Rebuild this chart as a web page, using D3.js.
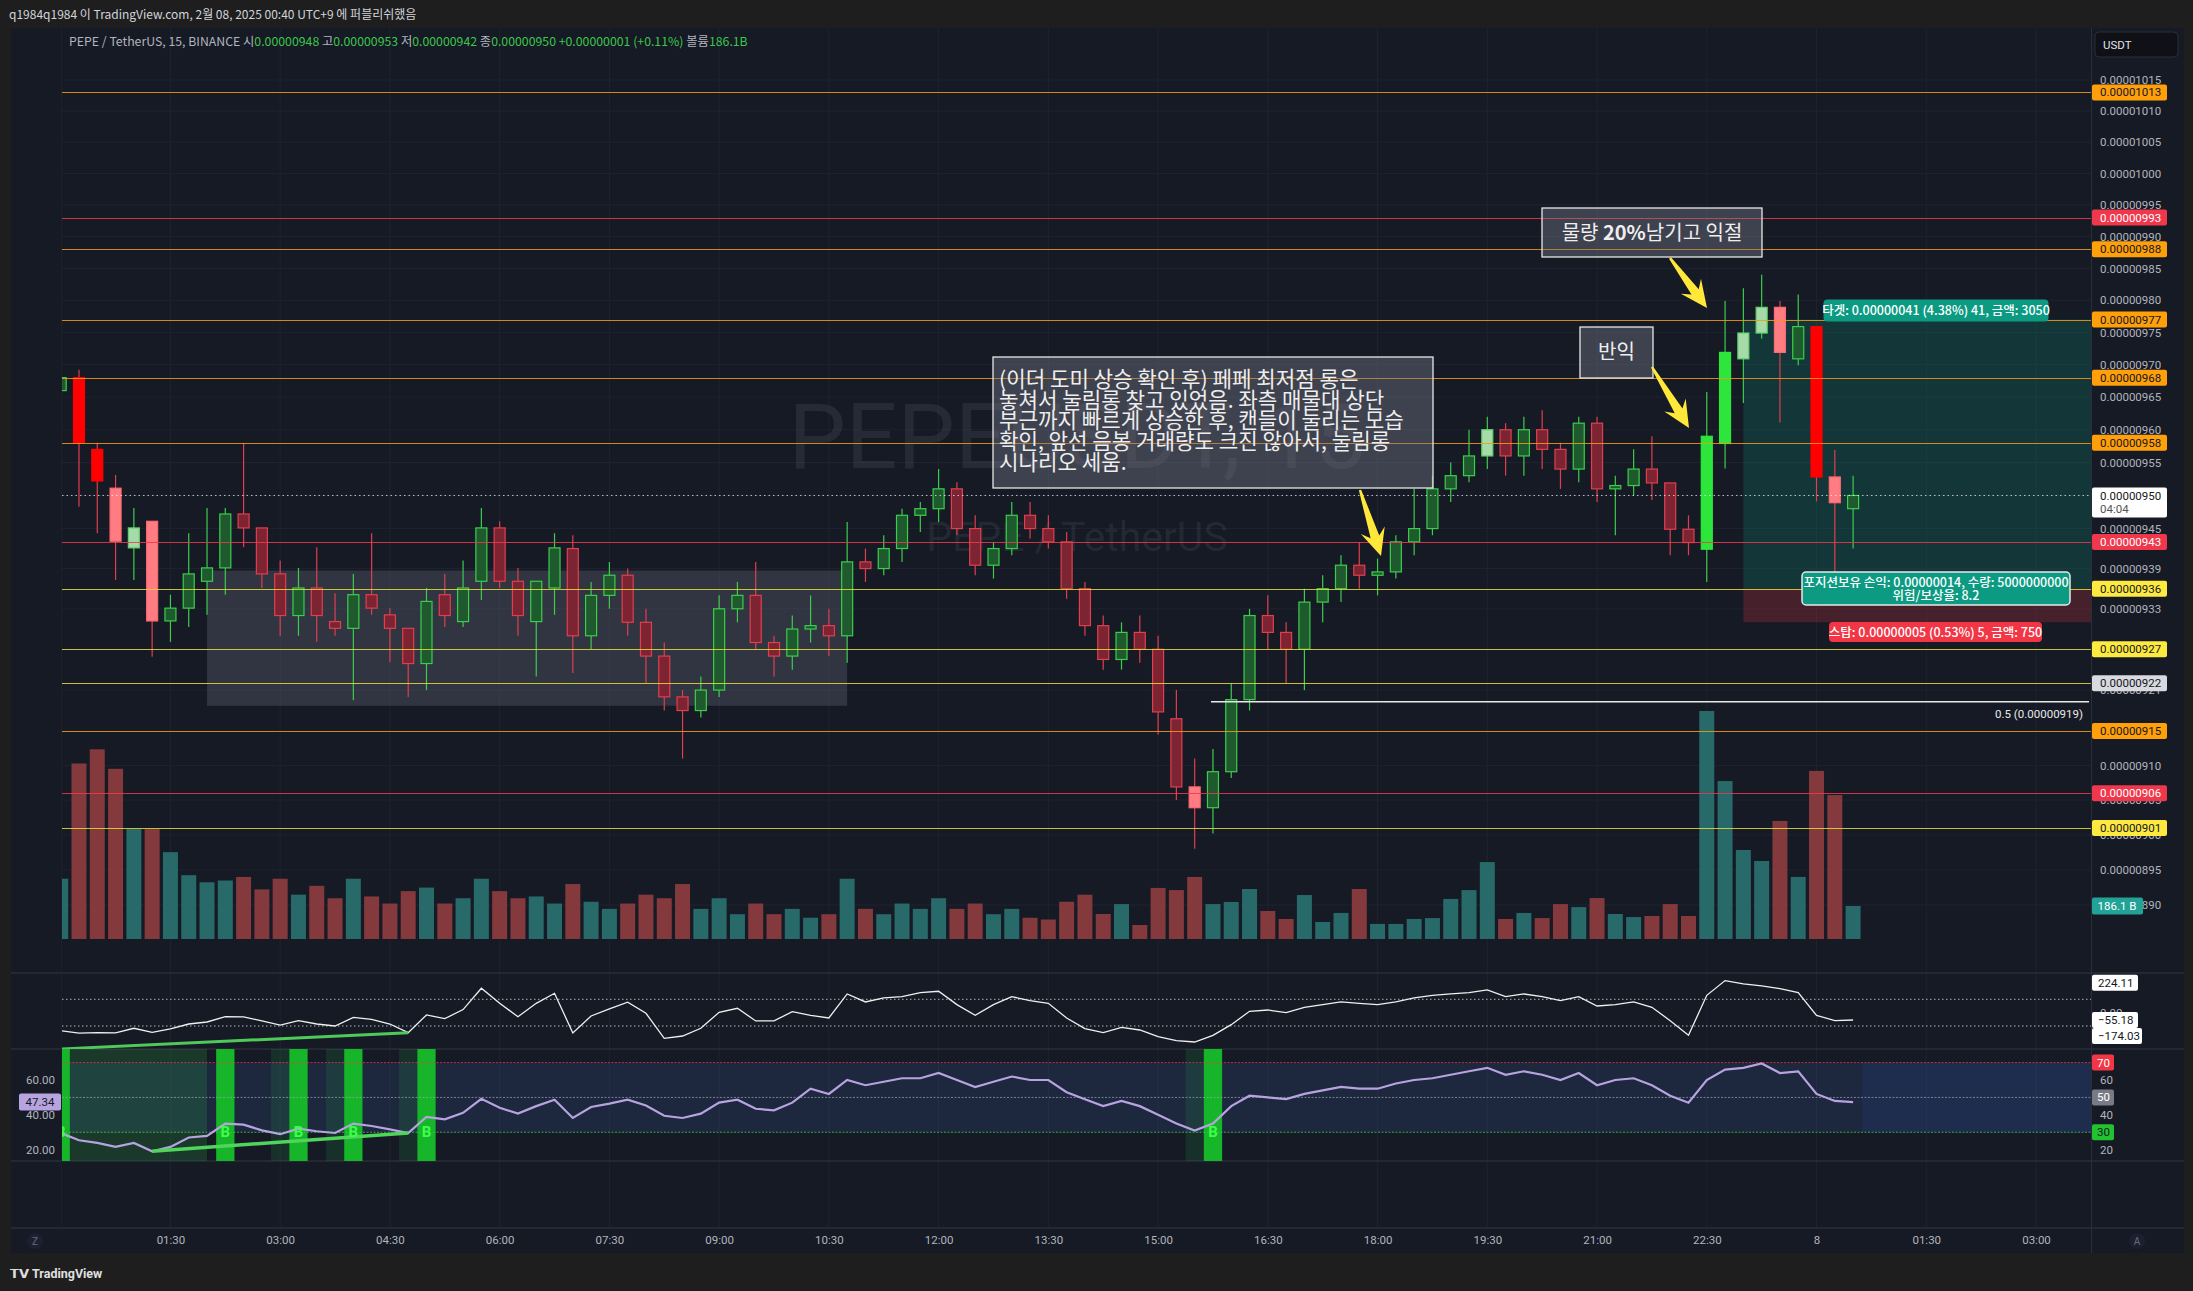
<!DOCTYPE html>
<html><head><meta charset="utf-8">
<script src="https://cdn.jsdelivr.net/npm/d3@7"></script>
<style>
body{margin:0;background:#1e1e1e;overflow:hidden}
svg{display:block}
text{font-family:Roboto,"Liberation Sans",sans-serif}
.kr{font-family:"Noto Sans CJK KR","Noto Sans",sans-serif}
</style>
</head><body>
<svg id="c" width="2193" height="1291"></svg>
<script>
// ---------------- DATA (prices in units of 0.00000001 USDT) ----------------
const openP  = [966,968,957,951.1,942.1,946.1,931.2,933.1,937.1,939.1,947.2,945.1,938.2,932,936.1,931.1,930.1,935.1,932.1,930.1,
  924.9,935.1,931.1,937.1,945.1,937.1,931.1,936.1,942,929,935,938,931,926,920,918,921,933,935,928,
  926,930,930.5,929,940,939,942,947,948,951,945,939.5,942,947,945,943,936,930.5,925.5,929.5,
  927,916.8,906.9,903.9,909.1,919.6,932,929.5,927,934,936,939.5,938,938.5,943,945,951,953,956,960,
  956,960,957,954,961,951,951.5,954,951.9,944.9,941.9,957.9,970.9,974.9,978.9,970.9,975.9,952.8,948];
const highP  = [969,969.2,958,953.1,948.1,946.1,935.1,944.3,948.1,948.1,958,945.1,940.2,939.1,942.2,935.3,938.2,944.3,933.1,930.1,
  936.1,938.2,940.2,948.1,946.1,939.1,937.1,944.3,944,937,940,939,933,928,921,923,935,937,940,929,
  932,935,933,946,942,944,948,949,954,952,947,943,949,949,947,944.5,937,932,931,932,
  929,921,911,912.4,922,933,935,931,936,938,941,943,940.5,944,951,953,955,960,962,961,
  962,963,958,962,962,953,957,959,951.9,947,965.8,979.9,981.9,984,979.9,980.9,976,956.9,953];
const lowP   = [965,948.3,944.3,937.3,937.3,925.9,928.1,930.3,932.1,935.1,942.2,936.1,929,929,928.1,929,919.5,932.1,925.1,920,
  921,930.3,930.3,934.3,936.1,929,923,932.1,923.5,927,933,929,922,918,911,917,920,931,927,923,
  924,928,926,925,937,938,940,944.5,946,944,938,937.5,941,943.5,942,934.5,929,924,924,925,
  914.5,905,898,900.2,908.2,918,927,922,921,931,934,936,935,937.5,941,944,949,952,954,953,
  953,954,951,952,949,944,950,949.3,941,941,937,954.1,964.1,974,961.1,969.9,949.1,938.3,942];
const closeP = [968,958,952.2,943.1,945.1,931.2,933.1,938.2,939.1,947.2,945.1,938.2,932,936.1,932,930.1,935.1,933.1,930.1,924.9,
  934.1,932,936.1,945.1,937.1,932,937.1,942.1,929,935,938,931,926,920,918,921,933,935,928,926,
  930,930.5,929,940,939,942,947,948,951,945,939.5,942,947,945,943,936,930.5,925.5,929.5,927,
  917.8,906.9,903.9,909.1,919.6,932,929.5,927,934,936,939.5,938,938.5,943,945,951,953,956,960,956,
  960,957,954,961,951,951.5,954,951.9,944.9,942.9,959,971.9,974.9,978.9,971.9,975.9,952.8,948.9,950];
// volume in billions of PEPE
const volumeB = [340,990,1070,960,620,620,490,360,320,330,350,280,340,250,300,230,340,240,200,270,
  290,200,230,340,270,230,240,200,310,210,170,200,250,230,310,170,230,140,200,140,
  170,120,140,340,170,140,200,170,230,170,200,140,170,120,110,210,250,141,197,79,
  288,276,350,197,209,282,158,113,248,96,147,282,85,85,113,118,226,276,434,113,
  147,118,197,180,231,141,124,130,197,130,1286,891,502,440,666,350,948,812,186.1];
// candle colouring tier of the volume-based candle indicator (0 normal, 1 elevated, 2 climax)
const volTier = [0,2,2,1,1,1,0,0,0,0,0,0,0,0,0,0,0,0,0,0,
  0,0,0,0,0,0,0,0,0,0,0,0,0,0,0,0,0,0,0,0,
  0,0,0,0,0,0,0,0,0,0,0,0,0,0,0,0,0,0,0,0,
  0,0,1,0,0,0,0,0,0,0,0,0,0,0,0,0,0,0,1,0,
  0,0,0,0,0,0,0,0,0,0,2,2,1,1,1,0,2,1,0];
const rsiVals = [29.6,25.4,23.9,21.6,23.9,19.1,21.6,27.0,27.9,35.0,34.4,31.1,28.9,32.1,30.6,29.6,35.0,33.6,31.7,29.6,
  38.8,37.4,41.2,49.2,44.1,40.7,45.0,48.7,38.2,44.5,46.4,48.7,45.4,39.5,38.2,40.7,47.0,48.7,43.5,42.6,
  47.0,55,52,60,57,59,61,61,64,60,56,59,62,60,60,53,49,45,48,45,
  40,35,31,35,45,51,50,49,52,54,56,55,55,58,60,61,63,65,67,63,
  65,63,60,64,57,60,61,57,51,47,60,66,67,69.5,64,65,52,48,47.34];
const cciVals = [-135,-154,-150,-152,-117,-147,-122,-85,-70,-30,-32,-62,-94,-60,-85,-100,-35,-50,-85,-150,
  -17,-45,23,183,70,-30,70,145,-152,-25,28,78,-5,-192,-175,-117,3,33,-62,-62,
  8,-20,-40,140,80,110,120,150,160,60,-20,60,120,90,70,-40,-120,-150,-110,-130,
  -180,-210,-220,-170,-90,10,20,0,40,60,80,70,60,80,110,130,140,150,170,120,
  140,120,90,120,50,60,80,40,-60,-170,130,240,215,200,180,150,-20,-60,-55.18];
// bars flagged by the divergence indicator ("B") and its shaded zones
const bullSignalIdx = [0,9,13,16,20,63];
const fadeSignalIdx = [12,15,19,62];
const bullZone = [0,8];
// time axis
const timeTickIdx = [6,12,18,24,30,36,42,48,54,60,66,72,78,84,90,96,102,108];
const timeTickLbl = ["01:30","03:00","04:30","06:00","07:30","09:00","10:30","12:00","13:30","15:00","16:30","18:00","19:30","21:00","22:30","8","01:30","03:00"];
// price axis ticks
const priceTicks = [1015,1010,1005,1000,995,990,985,980,975,970,965,960,955,950,945,939,933,927,921,915,910,905,900,895,890];
// horizontal levels drawn on the chart
const levelPrice = [1013,993,988,977,968,958,943,936,927,922,915,906,901];
const levelKind  = ["o","r","o","o","o","o","r","y","y","y","o","r","y"];
// long position tool
const entryIdx = 92, entryPrice = 936, targetPrice = 977, stopPrice = 931;
const fibPrice = 919, fibStartIdx = 63;
const zoneIdx = [8, 43], zonePrice = [938.7, 918.7];
const rsiDivIdx = [5, 19];
const cciDivIdx = [0, 19], cciDivStart = -272;

// ---------------- LAYOUT ----------------
const svg = d3.select('#c');
const plotL = 62, plotR = 2091, axisR = 2184;
const mainT = 28, mainB = 973, cciB = 1049, rsiB = 1161, timeT = 1228, timeB = 1253;
const BG = '#161a25', GRID = '#1f2330', TXT = '#b2b5be';
const fmt = v => (v * 1e-8).toFixed(8);

const x = d3.scaleLinear().domain([0, 98]).range([60.7, 1853.1]);
const y = d3.scaleLog().domain([890, 1015]).range([905, 80]);
const yv = d3.scaleLinear().domain([0, 1286]).range([939, 711]);
const yc = d3.scaleLinear().domain([-100, 100]).range([1026, 999.3]);
const yr = d3.scaleLinear().domain([20, 60]).range([1149.7, 1080]);
const step = x(1) - x(0);

// frame backgrounds
svg.append('rect').attr('width', 2193).attr('height', 1291).attr('fill', '#1e1e1e');
svg.append('rect').attr('x', 11).attr('y', mainT).attr('width', axisR - 11).attr('height', timeB - mainT).attr('fill', BG);
svg.append('text').attr('x', 9).attr('y', 19).attr('fill', '#d1d4dc').attr('font-size', 12)
  .attr('class', 'kr').text('q1984q1984 이 TradingView.com, 2월 08, 2025 00:40 UTC+9 에 퍼블리쉬했음');

const defs = svg.append('defs');
defs.append('clipPath').attr('id', 'clipMain').append('rect').attr('x', plotL).attr('y', mainT).attr('width', plotR - plotL).attr('height', mainB - mainT);
defs.append('clipPath').attr('id', 'clipCci').append('rect').attr('x', plotL).attr('y', mainB).attr('width', plotR - plotL).attr('height', cciB - mainB);
defs.append('clipPath').attr('id', 'clipRsi').append('rect').attr('x', plotL).attr('y', cciB).attr('width', plotR - plotL).attr('height', rsiB - cciB);

// grid
const grid = svg.append('g');
grid.selectAll('line.v').data(timeTickIdx).join('line')
  .attr('x1', d => x(d)).attr('x2', d => x(d)).attr('y1', mainT).attr('y2', timeT)
  .attr('stroke', GRID).attr('stroke-width', 1);
grid.selectAll('line.h').data(priceTicks).join('line')
  .attr('x1', plotL).attr('x2', plotR).attr('y1', d => y(d)).attr('y2', d => y(d))
  .attr('stroke', GRID).attr('stroke-width', 1);
// pane separators
[mainB, cciB, rsiB, timeT].forEach(yy =>
  svg.append('line').attr('x1', 11).attr('x2', axisR).attr('y1', yy).attr('y2', yy).attr('stroke', '#2a2e39').attr('stroke-width', 1.5));
svg.append('line').attr('x1', plotR + 0.5).attr('x2', plotR + 0.5).attr('y1', mainT).attr('y2', timeB).attr('stroke', '#2a2e39');
svg.append('line').attr('x1', plotL - 0.5).attr('x2', plotL - 0.5).attr('y1', mainT).attr('y2', timeT).attr('stroke', '#1c202b');

// ---------------- MAIN PANE ----------------
const main = svg.append('g').attr('clip-path', 'url(#clipMain)');
// watermark
main.append('text').attr('x', 1077).attr('y', 468).attr('text-anchor', 'middle').attr('font-size', 91)
  .attr('fill', 'rgba(255,255,255,0.07)').text('PEPEUSDT, 15');
main.append('text').attr('x', 1077).attr('y', 551).attr('text-anchor', 'middle').attr('font-size', 41)
  .attr('fill', 'rgba(255,255,255,0.07)').text('PEPE / TetherUS');

// demand zone
main.append('rect').attr('x', x(zoneIdx[0])).attr('y', y(zonePrice[0]))
  .attr('width', x(zoneIdx[1]) - x(zoneIdx[0])).attr('height', y(zonePrice[1]) - y(zonePrice[0]))
  .attr('fill', 'rgba(125,130,145,0.26)');

// position tool
main.append('rect').attr('x', x(entryIdx)).attr('y', y(targetPrice)).attr('width', plotR - x(entryIdx))
  .attr('height', y(entryPrice) - y(targetPrice)).attr('fill', 'rgba(8,153,129,0.22)');
main.append('rect').attr('x', x(entryIdx)).attr('y', y(entryPrice)).attr('width', plotR - x(entryIdx))
  .attr('height', y(stopPrice) - y(entryPrice)).attr('fill', 'rgba(242,54,69,0.22)');

// volume
main.selectAll('rect.vol').data(volumeB).join('rect')
  .attr('x', (d, i) => x(i) - 7.5).attr('width', 15)
  .attr('y', d => yv(d)).attr('height', d => yv(0) - yv(d))
  .attr('fill', (d, i) => closeP[i] >= openP[i] ? '#28696a' : '#84393d');

// candles
const upFill = ['#1e5a2d', '#a6dba9', '#2de63c'], upStroke = ['#3ccd4c', '#5fd26a', '#2de63c'];
const dnFill = ['#7d2433', '#ff7c83', '#ff0000'], dnStroke = ['#df3f4f', '#ff6a72', '#ff0000'];
const candles = main.selectAll('g.c').data(openP.map((o, i) => ({ i, o, h: highP[i], l: lowP[i], c: closeP[i], t: volTier[i] })))
  .join('g');
candles.append('line').attr('x1', d => x(d.i)).attr('x2', d => x(d.i))
  .attr('y1', d => y(d.h)).attr('y2', d => y(d.l))
  .attr('stroke', d => d.c >= d.o ? '#3ccd4c' : '#df3f4f').attr('stroke-width', 1.2);
candles.append('rect').attr('x', d => x(d.i) - 5.5).attr('width', 11)
  .attr('y', d => y(Math.max(d.o, d.c))).attr('height', d => Math.max(1, y(Math.min(d.o, d.c)) - y(Math.max(d.o, d.c))))
  .attr('fill', d => d.c >= d.o ? upFill[d.t] : dnFill[d.t])
  .attr('stroke', d => d.c >= d.o ? upStroke[d.t] : dnStroke[d.t]).attr('stroke-width', 1.2);

// levels
const levelColor = { o: '#f59a16', r: '#ef3a4c', y: '#e8dc3c' };
main.selectAll('line.lv').data(levelPrice).join('line')
  .attr('x1', plotL).attr('x2', plotR).attr('y1', d => Math.round(y(d)) + 0.5).attr('y2', d => Math.round(y(d)) + 0.5)
  .attr('stroke', (d, i) => levelColor[levelKind[i]]).attr('stroke-width', 1).attr('opacity', 0.85);
// current price dotted line
main.append('line').attr('x1', plotL).attr('x2', plotR).attr('y1', y(closeP[98])).attr('y2', y(closeP[98]))
  .attr('stroke', 'rgba(255,255,255,0.7)').attr('stroke-dasharray', '1.5,3');
// fib 0.5
main.append('line').attr('x1', x(fibStartIdx) - 2).attr('x2', plotR - 2).attr('y1', y(fibPrice) - 2).attr('y2', y(fibPrice) - 2)
  .attr('stroke', '#e8e8e8').attr('stroke-width', 1.5);
main.append('text').attr('x', 2083).attr('y', y(fibPrice) + 14).attr('text-anchor', 'end').attr('font-size', 11.5)
  .attr('fill', '#e8e8e8').text('0.5 (' + fmt(fibPrice) + ')');

// annotation boxes
function noteBox(x0, y0, x1, y1) {
  main.append('rect').attr('x', x0).attr('y', y0).attr('width', x1 - x0).attr('height', y1 - y0)
    .attr('fill', 'rgba(118,122,135,0.42)').attr('stroke', '#e6e6e6').attr('stroke-width', 1.3);
}
const noteLines = ['(이더 도미 상승 확인 후) 페페 최저점 롱은', '놓쳐서 눌림롱 찾고 있었음. 좌측 매물대 상단',
  '부근까지 빠르게 상승한 후, 캔들이 눌리는 모습', '확인, 앞선 음봉 거래량도 크진 않아서, 눌림롱', '시나리오 세움.'];
noteBox(993, 357, 1433, 488);
noteLines.forEach((s, k) => main.append('text').attr('class', 'kr').attr('x', 999).attr('y', 387 + k * 20.7)
  .attr('font-size', 21.2).attr('fill', '#eeeeee').text(s));
noteBox(1580, 327, 1653, 378);
main.append('text').attr('class', 'kr').attr('x', 1616.5).attr('y', 359).attr('text-anchor', 'middle')
  .attr('font-size', 20).attr('fill', '#eeeeee').text('반익');
noteBox(1542, 208, 1762, 257);
const t3 = main.append('text').attr('class', 'kr').attr('x', 1652).attr('y', 240).attr('text-anchor', 'middle')
  .attr('font-size', 20).attr('fill', '#eeeeee');
t3.append('tspan').text('물량 ');
t3.append('tspan').attr('font-weight', 'bold').text('20%');
t3.append('tspan').text('남기고 익절');

function arrowPath(x0, y0, x1, y1) {
  const dx = x1 - x0, dy = y1 - y0, L = Math.hypot(dx, dy);
  const ux = dx / L, uy = dy / L, nx = -uy, ny = ux;
  const pt = (t, w) => [x0 + ux * t + nx * w, y0 + uy * t + ny * w];
  const pts = [pt(0, -1.2), pt(L - 20, -4.5), pt(L - 27, -12.5), pt(L, 0), pt(L - 27, 12.5), pt(L - 20, 4.5), pt(0, 1.2)];
  return 'M' + pts.map(p => p.join(',')).join('L') + 'Z';
}
[[1670, 258, 1707, 308], [1652, 367, 1689, 428], [1360, 490, 1381, 556]].forEach(a =>
  main.append('path').attr('d', arrowPath(...a)).attr('fill', '#ffe83a'));

// position labels
function pill(cx, cy, w, h, fill, lines, stroke) {
  const g = main.append('g');
  g.append('rect').attr('x', cx - w / 2).attr('y', cy - h / 2).attr('width', w).attr('height', h).attr('rx', 4)
    .attr('fill', fill).attr('stroke', stroke || 'none').attr('stroke-width', 1.5);
  lines.forEach((t, k) => g.append('text').attr('class', 'kr').attr('x', cx).attr('y', cy + 4.5 + (k - (lines.length - 1) / 2) * 13)
    .attr('text-anchor', 'middle').attr('font-size', 12.5).attr('font-weight', 500).attr('fill', '#ffffff').text(t));
}
pill(1936, 310.5, 225, 22, '#0c9b82', ['타겟: 0.00000041 (4.38%) 41, 금액: 3050']);
pill(1936, 588.5, 268, 33, '#0c9b82', ['포지션보유 손익: 0.00000014, 수량: 5000000000', '위험/보상율: 8.2'], '#e8e8e8');
pill(1935.5, 632, 213, 20, '#f23645', ['스탑: 0.00000005 (0.53%) 5, 금액: 750']);

// legend
const leg = svg.append('text').attr('x', 69).attr('y', 46).attr('font-size', 12.3).attr('class', 'kr').attr('fill', TXT);
const G = '#3cc64a';
[['PEPE / TetherUS, 15, BINANCE  시', TXT], [fmt(openP[98]), G], ['  고', TXT], [fmt(highP[98]), G], ['  저', TXT], [fmt(lowP[98]), G],
 ['  종', TXT], [fmt(closeP[98]), G], ['  +0.00000001 (+0.11%)', G], ['  볼륨', TXT], [volumeB[98].toFixed(1) + 'B', G]]
  .forEach(([t, c]) => leg.append('tspan').attr('fill', c).text(t));

// ---------------- PRICE AXIS ----------------
const ax = svg.append('g').attr('transform', `translate(${plotR},0)`)
  .call(d3.axisRight(y).tickValues(priceTicks).tickFormat(fmt).tickSize(0).tickPadding(9));
ax.select('.domain').remove();
ax.selectAll('text').attr('fill', TXT).attr('font-size', 11.5).attr('font-family', 'Roboto');

function axLabel(yy, txt, fill, color, h, sub) {
  const g = svg.append('g');
  g.append('rect').attr('x', 2092).attr('y', yy - (h || 16) / 2).attr('width', 75).attr('height', h || 16).attr('rx', 2).attr('fill', fill);
  g.append('text').attr('x', 2100).attr('y', yy + 4 - (sub ? 6.5 : 0)).attr('font-size', 11.5).attr('fill', color).text(txt);
  if (sub) g.append('text').attr('x', 2100).attr('y', yy + 10.5).attr('font-size', 11.5).attr('fill', '#555').text(sub);
}
const lblFill = { o: '#ff9f0a', r: '#f0384c', y: '#fde93f' };
levelPrice.forEach((p, i) => {
  const k = levelKind[i];
  if (p === 922) axLabel(y(p), fmt(p), '#d8dae0', '#131722');
  else axLabel(y(p), fmt(p), lblFill[k], k === 'r' ? '#ffffff' : '#131722');
});
axLabel(y(closeP[98]) + 7, fmt(closeP[98]), '#ffffff', '#131722', 30, '04:04');
// volume label
svg.append('rect').attr('x', 2092).attr('y', yv(volumeB[98]) - 8.5).attr('width', 51).attr('height', 17).attr('rx', 2).attr('fill', '#22a397');
svg.append('text').attr('x', 2117).attr('y', yv(volumeB[98]) + 4).attr('text-anchor', 'middle').attr('font-size', 11.5).attr('fill', '#fff').text(volumeB[98].toFixed(1) + ' B');
// USDT
svg.append('rect').attr('x', 2095).attr('y', 32).attr('width', 83).attr('height', 25).attr('rx', 4).attr('fill', '#0f1117').attr('stroke', '#2a2e39');
svg.append('text').attr('x', 2103).attr('y', 49).attr('font-size', 11.5).attr('fill', '#e0e3eb').text('USDT');

// ---------------- CCI PANE ----------------
const cci = svg.append('g').attr('clip-path', 'url(#clipCci)');
[100, -100].forEach(v => cci.append('line').attr('x1', plotL).attr('x2', plotR).attr('y1', yc(v)).attr('y2', yc(v))
  .attr('stroke', 'rgba(230,230,230,0.75)').attr('stroke-dasharray', '1.5,2.5'));
cci.append('path').datum(cciVals).attr('fill', 'none').attr('stroke', '#f0f0f0').attr('stroke-width', 1.3)
  .attr('d', d3.line().x((d, i) => x(i)).y(d => yc(d)));
cci.append('line').attr('x1', x(cciDivIdx[0])).attr('y1', yc(cciDivStart)).attr('x2', x(cciDivIdx[1])).attr('y2', yc(cciVals[cciDivIdx[1]]))
  .attr('stroke', '#4fc95a').attr('stroke-width', 3);
function smallBox(yy, txt, fill, color, w) {
  svg.append('rect').attr('x', 2092).attr('y', yy - 8).attr('width', w || 46).attr('height', 16).attr('rx', 2).attr('fill', fill);
  svg.append('text').attr('x', 2098).attr('y', yy + 4).attr('font-size', 11.5).attr('fill', color).text(txt);
}
svg.append('text').attr('x', 2100).attr('y', yc(0) + 4).attr('font-size', 11.5).attr('fill', TXT).text('0.00');
smallBox(yc(224.11), '224.11', '#ffffff', '#131722');
smallBox(yc(cciVals[98]), '−55.18', '#ffffff', '#131722');
smallBox(yc(-174.03), '−174.03', '#ffffff', '#131722', 50);

// ---------------- RSI PANE ----------------
const rsi = svg.append('g').attr('clip-path', 'url(#clipRsi)');
rsi.append('rect').attr('x', plotL).attr('width', x(98) + 9 - plotL).attr('y', yr(70)).attr('height', yr(30) - yr(70)).attr('fill', 'rgba(70,110,190,0.16)');
rsi.append('rect').attr('x', x(98) + 9).attr('width', plotR - x(98) - 9).attr('y', yr(70)).attr('height', yr(30) - yr(70)).attr('fill', 'rgba(60,110,210,0.24)');
rsi.append('rect').attr('x', plotL).attr('width', x(bullZone[1]) - plotL).attr('y', cciB).attr('height', rsiB - cciB).attr('fill', 'rgba(40,170,70,0.22)');
rsi.selectAll('rect.f').data(fadeSignalIdx).join('rect').attr('x', d => x(d) - step / 2).attr('width', step)
  .attr('y', cciB).attr('height', rsiB - cciB).attr('fill', 'rgba(40,170,70,0.16)');
rsi.selectAll('rect.b').data(bullSignalIdx).join('rect').attr('x', d => x(d) - step / 2).attr('width', step)
  .attr('y', cciB).attr('height', rsiB - cciB).attr('fill', '#17b52a');
[[70, 'rgba(242,54,69,0.75)'], [50, 'rgba(160,165,175,0.7)'], [30, 'rgba(60,200,80,0.8)']].forEach(([v, c]) =>
  rsi.append('line').attr('x1', plotL).attr('x2', plotR).attr('y1', yr(v)).attr('y2', yr(v)).attr('stroke', c).attr('stroke-dasharray', '2,1.5'));
rsi.append('path').datum(rsiVals).attr('fill', 'none').attr('stroke', '#b7a3df').attr('stroke-width', 2.2)
  .attr('d', d3.line().x((d, i) => x(i)).y(d => yr(d)));
rsi.append('line').attr('x1', x(rsiDivIdx[0])).attr('y1', yr(rsiVals[rsiDivIdx[0]])).attr('x2', x(rsiDivIdx[1])).attr('y2', yr(rsiVals[rsiDivIdx[1]]))
  .attr('stroke', '#4fd45c').attr('stroke-width', 3.5);
rsi.selectAll('text.b').data(bullSignalIdx).join('text').attr('x', d => x(d)).attr('y', 1137).attr('text-anchor', 'middle')
  .attr('font-size', 15).attr('font-weight', 'bold').attr('fill', '#3dff4a').text('B');
// RSI right labels
[[60, '60'], [40, '40'], [20, '20']].forEach(([v, t]) => svg.append('text').attr('x', 2100).attr('y', yr(v) + 4).attr('font-size', 11.5).attr('fill', TXT).text(t));
[[70, '#f23645', '#fff'], [50, '#787b86', '#fff'], [30, '#22c32e', '#131722']].forEach(([v, f, c]) => {
  svg.append('rect').attr('x', 2092).attr('y', yr(v) - 8).attr('width', 22).attr('height', 16).attr('rx', 2).attr('fill', f);
  svg.append('text').attr('x', 2097).attr('y', yr(v) + 4).attr('font-size', 11.5).attr('fill', c).text(v);
});
// RSI left labels
[[60, '60.00'], [40, '40.00'], [20, '20.00']].forEach(([v, t]) => svg.append('text').attr('x', 55).attr('y', yr(v) + 4)
  .attr('text-anchor', 'end').attr('font-size', 11.5).attr('fill', TXT).text(t));
svg.append('rect').attr('x', 19).attr('y', yr(rsiVals[98]) - 8.5).attr('width', 42).attr('height', 17).attr('rx', 2).attr('fill', '#b7a3df');
svg.append('text').attr('x', 40).attr('y', yr(rsiVals[98]) + 4).attr('text-anchor', 'middle').attr('font-size', 11.5).attr('fill', '#131722').text(rsiVals[98].toFixed(2));

// ---------------- TIME AXIS ----------------
const tx = svg.append('g').attr('transform', `translate(0,${timeT})`)
  .call(d3.axisBottom(x).tickValues(timeTickIdx).tickFormat((d, i) => timeTickLbl[i]).tickSize(0).tickPadding(8));
tx.select('.domain').remove();
tx.selectAll('text').attr('fill', TXT).attr('font-size', 11.5).attr('font-family', 'Roboto');
[[35, 'Z'], [2137, 'A']].forEach(([cx, t]) => {
  svg.append('circle').attr('cx', cx).attr('cy', 1241).attr('r', 8).attr('fill', '#1c2030');
  svg.append('text').attr('x', cx).attr('y', 1245).attr('text-anchor', 'middle').attr('font-size', 10).attr('fill', '#6a6d78').text(t);
});
// footer
svg.append('text').attr('x', 10).attr('y', 1278).attr('font-size', 13).attr('font-weight', 'bold').attr('fill', '#e0e0e0').text('𝗧𝗩');
svg.append('text').attr('x', 32).attr('y', 1278).attr('font-size', 12.5).attr('font-weight', 'bold').attr('fill', '#e0e0e0').text('TradingView');
</script>
</body></html>
